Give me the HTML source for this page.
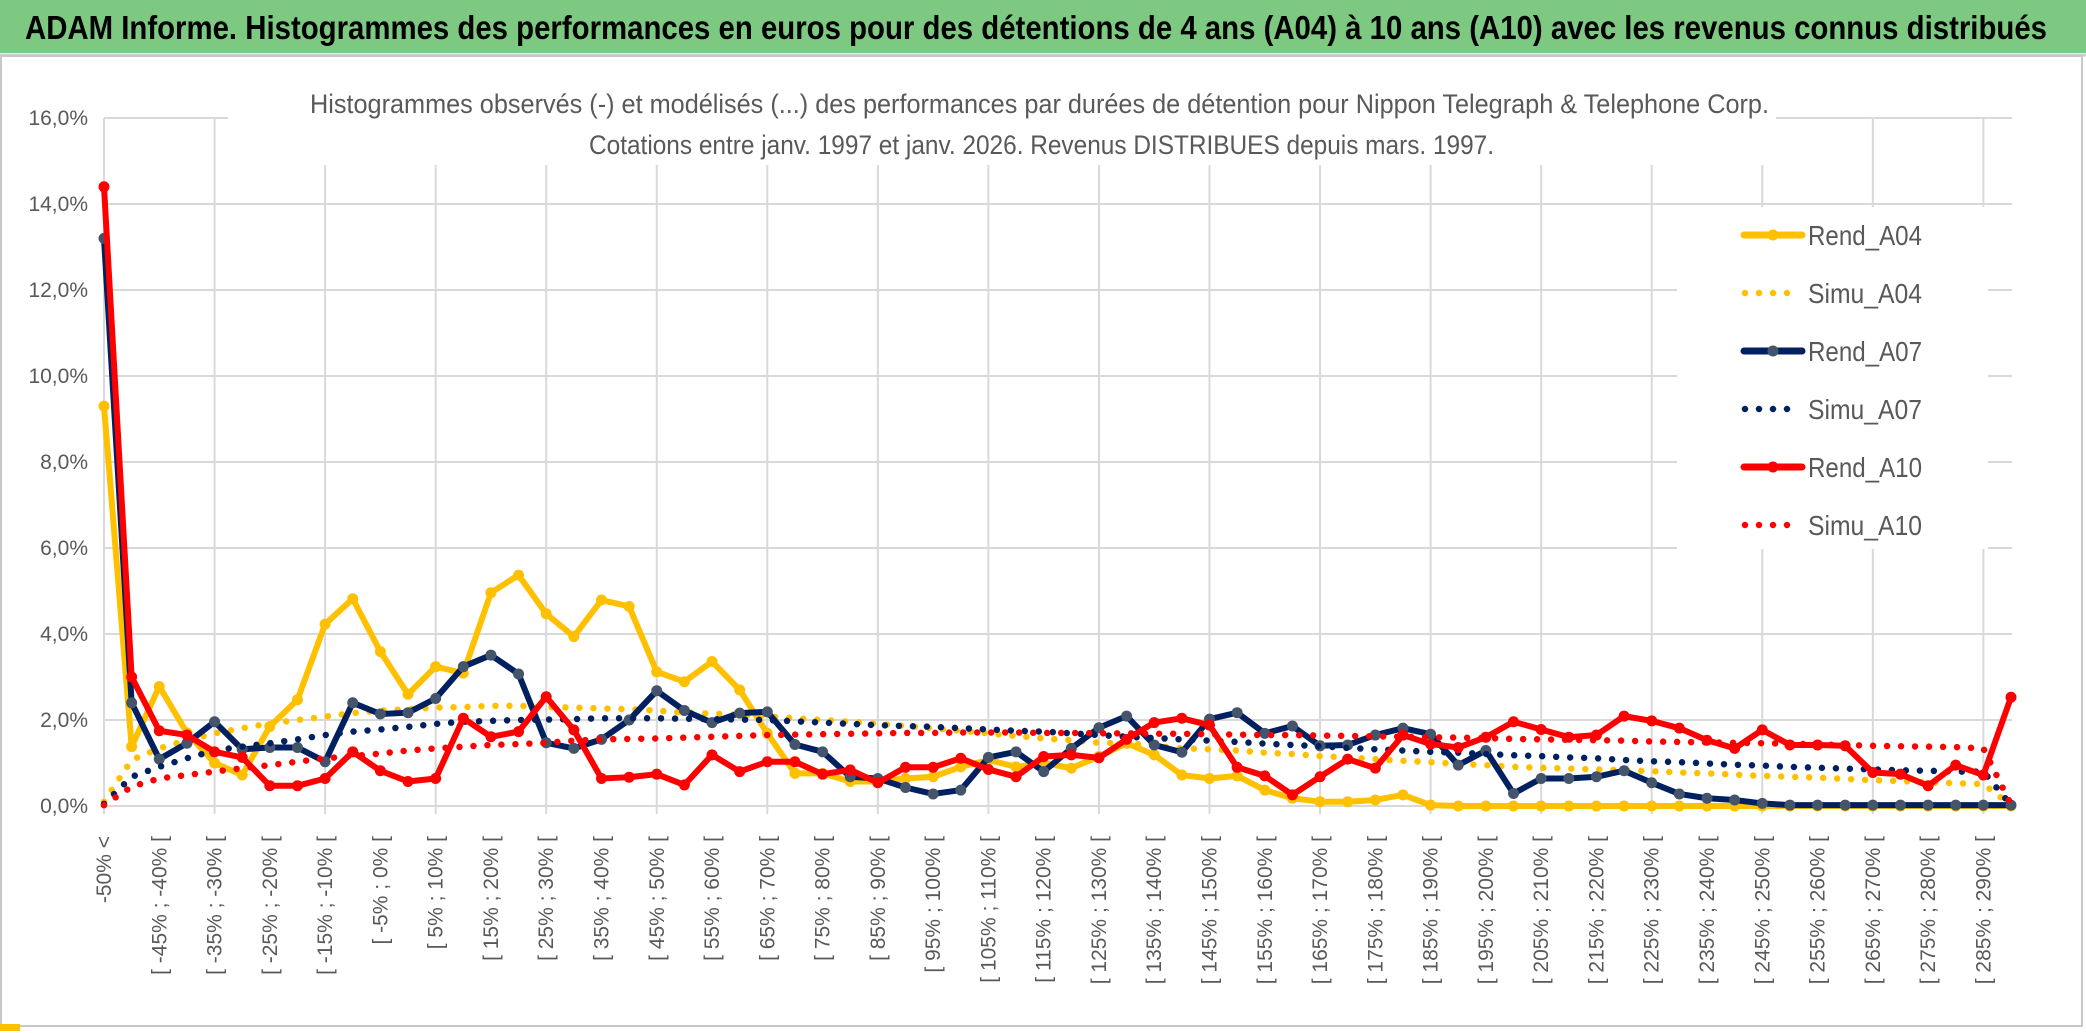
<!DOCTYPE html>
<html><head><meta charset="utf-8">
<style>
html,body{margin:0;padding:0;background:#fff;}
svg{display:block;font-family:"Liberation Sans",sans-serif;}
</style></head>
<body>
<svg id="chart" width="2086" height="1033" viewBox="0 0 2086 1033" xmlns="http://www.w3.org/2000/svg">
  <rect x="0" y="0" width="2086" height="1033" fill="#fff"/>
  <rect x="0" y="0" width="2086" height="53" fill="#7dc982"/>
  <line x1="0" y1="55" x2="2086" y2="55" stroke="#d0d0d0" stroke-width="3"/>
  <rect x="1" y="56" width="2081" height="970" fill="none" stroke="#c8c8c8" stroke-width="2"/>
  <rect x="0" y="1024" width="20" height="7" fill="#ffc000"/>
  <text x="25" y="39" font-size="33" font-weight="bold" fill="#000" textLength="2022" lengthAdjust="spacingAndGlyphs">ADAM Informe. Histogrammes des performances en euros pour des détentions de 4 ans (A04) à 10 ans (A10) avec les revenus connus distribués</text>
  <g id="grid"></g>
  <rect x="228" y="70" width="1548" height="95" fill="#fff"/>
  <text x="310" y="113" font-size="27" fill="#595959" textLength="1459" lengthAdjust="spacingAndGlyphs">Histogrammes observés (-) et modélisés (...) des performances par durées de détention pour Nippon Telegraph &amp; Telephone Corp.</text>
  <text x="589" y="154" font-size="27" fill="#595959" textLength="905" lengthAdjust="spacingAndGlyphs">Cotations entre janv. 1997 et janv. 2026. Revenus DISTRIBUES depuis mars. 1997.</text>
  <g id="yaxis"></g>
  <g id="xaxis"></g>
  <g id="series"></g>
  <g id="legend"></g>
</svg>
<script>
const categoriesCount = 70;
const yTicks = [0, 2, 4, 6, 8, 10, 12, 14, 16];
const yTickLabels = ["0,0%", "2,0%", "4,0%", "6,0%", "8,0%", "10,0%", "12,0%", "14,0%", "16,0%"];
const categoryLabels = [];
for (let i = 0; i < categoriesCount; i++) {
  categoryLabels.push(i === 0 ? "-50% <" : "[ " + (-55 + 5 * i) + "% ; " + (-50 + 5 * i) + "% [");
}
const rendA04 = [9.3,1.38,2.78,1.7,1.0,0.72,1.85,2.47,4.23,4.82,3.59,2.6,3.24,3.09,4.96,5.37,4.47,3.94,4.79,4.64,3.12,2.89,3.36,2.7,1.69,0.76,0.76,0.57,0.57,0.64,0.68,0.91,1.07,0.91,1.0,0.88,1.15,1.46,1.19,0.72,0.64,0.7,0.37,0.18,0.1,0.1,0.14,0.26,0.02,0,0,0,0,0,0,0,0,0,0,0,0,0,0,0,0,0,0,0,0,0];
const simuA04 = [0.1,1.07,1.34,1.53,1.69,1.81,1.92,2.0,2.08,2.16,2.22,2.25,2.29,2.3,2.33,2.33,2.3,2.29,2.27,2.25,2.22,2.17,2.15,2.12,2.08,2.04,2.0,1.96,1.91,1.86,1.81,1.75,1.69,1.63,1.57,1.53,1.47,1.46,1.4,1.34,1.32,1.29,1.24,1.21,1.16,1.13,1.09,1.05,1.02,0.98,0.95,0.91,0.89,0.87,0.85,0.83,0.81,0.78,0.76,0.73,0.7,0.68,0.66,0.63,0.6,0.58,0.55,0.53,0.51,0.02];
const rendA07 = [13.2,2.4,1.09,1.46,1.96,1.32,1.36,1.36,1.03,2.4,2.14,2.17,2.5,3.24,3.51,3.07,1.47,1.34,1.55,2.0,2.68,2.22,1.94,2.16,2.19,1.43,1.26,0.68,0.64,0.43,0.28,0.37,1.13,1.26,0.8,1.34,1.82,2.09,1.42,1.25,2.02,2.17,1.69,1.86,1.4,1.42,1.65,1.81,1.67,0.95,1.29,0.29,0.64,0.64,0.68,0.82,0.54,0.28,0.18,0.14,0.06,0.02,0.02,0.02,0.02,0.02,0.02,0.02,0.02,0.02];
const simuA07 = [0.05,0.68,0.91,1.11,1.29,1.38,1.46,1.55,1.65,1.73,1.78,1.84,1.91,1.96,1.98,2.0,2.01,2.02,2.04,2.04,2.04,2.03,2.02,2.01,2.0,1.97,1.94,1.91,1.88,1.86,1.84,1.81,1.78,1.75,1.73,1.69,1.65,1.61,1.58,1.55,1.52,1.49,1.45,1.42,1.39,1.35,1.32,1.29,1.26,1.24,1.21,1.18,1.16,1.13,1.11,1.07,1.04,1.02,0.99,0.96,0.94,0.91,0.89,0.87,0.85,0.83,0.82,0.8,0.8,0.02];
const rendA10 = [14.4,3.0,1.75,1.65,1.26,1.13,0.47,0.47,0.64,1.26,0.82,0.57,0.64,2.04,1.61,1.73,2.54,1.77,0.64,0.67,0.74,0.49,1.19,0.8,1.03,1.03,0.74,0.84,0.54,0.9,0.9,1.11,0.85,0.68,1.15,1.19,1.12,1.55,1.94,2.04,1.88,0.9,0.7,0.26,0.68,1.09,0.88,1.65,1.44,1.36,1.6,1.96,1.78,1.6,1.65,2.09,1.98,1.81,1.53,1.34,1.77,1.42,1.42,1.4,0.78,0.74,0.47,0.95,0.72,2.53];
const simuA10 = [0.02,0.45,0.64,0.72,0.8,0.88,0.95,1.03,1.11,1.16,1.22,1.29,1.34,1.38,1.42,1.44,1.47,1.52,1.55,1.56,1.57,1.59,1.61,1.63,1.65,1.66,1.67,1.68,1.69,1.7,1.7,1.71,1.71,1.71,1.7,1.7,1.69,1.69,1.68,1.68,1.67,1.66,1.65,1.65,1.64,1.63,1.62,1.61,1.6,1.59,1.58,1.56,1.55,1.54,1.53,1.52,1.5,1.49,1.48,1.47,1.46,1.45,1.43,1.42,1.4,1.39,1.38,1.37,1.34,0.03];
const seriesNames = ["Rend_A04", "Simu_A04", "Rend_A07", "Simu_A07", "Rend_A10", "Simu_A10"];

const NS = "http://www.w3.org/2000/svg";
const X0 = 104, X1 = 2011, Y0 = 806, YTOP = 118, YMAX = 16;
function xPos(i) { return X0 + i * (X1 - X0) / (categoriesCount - 1); }
function yPos(v) { return Y0 - v / YMAX * (Y0 - YTOP); }
function mk(tag, attrs, parent) {
  const el = document.createElementNS(NS, tag);
  for (const k in attrs) el.setAttribute(k, attrs[k]);
  parent.appendChild(el);
  return el;
}

const grid = document.getElementById("grid");
yTicks.forEach(function (t) {
  const l = mk("line", {x1: X0, x2: 2012, y1: yPos(t), y2: yPos(t), stroke: "#d9d9d9", "stroke-width": 2}, grid);
  
  
});
for (let i = 0; i < categoriesCount; i += 4) {
  const l = mk("line", {x1: xPos(i), x2: xPos(i), y1: YTOP, y2: Y0 + 8, stroke: "#d9d9d9", "stroke-width": 2}, grid);
  
  
}

const yaxis = document.getElementById("yaxis");
yTicks.forEach(function (t, k) {
  const tx = mk("text", {x: 88, y: yPos(t) + 7, "font-size": 21, fill: "#595959", "text-anchor": "end"}, yaxis);
  tx.textContent = yTickLabels[k];
  
  
});

const xaxis = document.getElementById("xaxis");
for (let i = 0; i < categoriesCount; i += 2) {
  const x = xPos(i) + 7, y = 836;
  const tx = mk("text", {x: x, y: y, "font-size": 21, fill: "#595959", "text-anchor": "end", transform: "rotate(-90 " + x + " " + y + ")"}, xaxis);
  tx.textContent = categoryLabels[i];
  
  
}

const sg = document.getElementById("series");
function solid(data, color, markerFill, name) {
  const g = mk("g", {}, sg);
  
  
  const pts = data.map(function (v, i) { return xPos(i) + "," + yPos(v); }).join(" ");
  mk("polyline", {points: pts, fill: "none", stroke: color, "stroke-width": 6, "stroke-linejoin": "round"}, g);
  data.forEach(function (v, i) {
    const c = mk("circle", {cx: xPos(i), cy: yPos(v), r: 5.5, fill: markerFill}, g);
    
    
  });
}
function dotted(data, color, name) {
  const pts = data.map(function (v, i) { return xPos(i) + "," + yPos(v); }).join(" ");
  const p = mk("polyline", {points: pts, fill: "none", stroke: color, "stroke-width": 6.5, "stroke-linecap": "round", "stroke-dasharray": "0 14"}, sg);
  
  
}
solid(rendA04, "#ffc000", "#ffc000", "series-rend-a04");
dotted(simuA04, "#ffc000", "series-simu-a04");
solid(rendA07, "#002060", "#44546a", "series-rend-a07");
dotted(simuA07, "#002060", "series-simu-a07");
solid(rendA10, "#ff0000", "#ff0000", "series-rend-a10");
dotted(simuA10, "#ff0000", "series-simu-a10");

const lg = document.getElementById("legend");
const lbg = mk("rect", {x: 1677, y: 207, width: 311, height: 342, fill: "#fff"}, lg);


const legendColors = ["#ffc000", "#ffc000", "#002060", "#002060", "#ff0000", "#ff0000"];
const legendMarkers = ["#ffc000", null, "#44546a", null, "#ff0000", null];
seriesNames.forEach(function (n, k) {
  const y = 235 + k * 58;
  const g = mk("g", {}, lg);
  
  
  if (legendMarkers[k]) {
    mk("line", {x1: 1744, x2: 1802, y1: y, y2: y, stroke: legendColors[k], "stroke-width": 7, "stroke-linecap": "round"}, g);
    mk("circle", {cx: 1773, cy: y, r: 5.5, fill: legendMarkers[k]}, g);
  } else {
    mk("line", {x1: 1745, x2: 1790, y1: y, y2: y, stroke: legendColors[k], "stroke-width": 6.5, "stroke-linecap": "round", "stroke-dasharray": "0 14"}, g);
  }
  const t = mk("text", {x: 1808, y: y + 10, "font-size": 28, fill: "#595959", textLength: 114, lengthAdjust: "spacingAndGlyphs"}, g);
  t.textContent = n;
});
</script>
</body></html>
